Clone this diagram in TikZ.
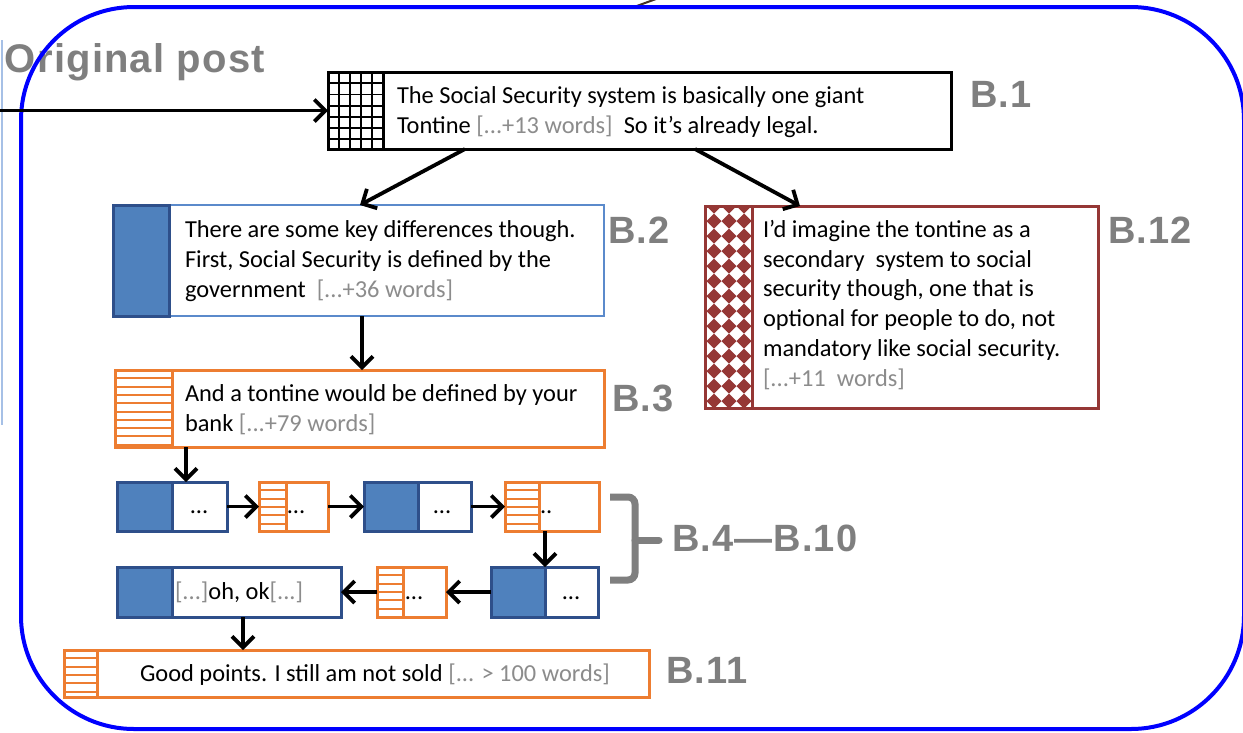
\documentclass[tikz,border=0pt]{standalone}
\usepackage{fontspec}
\setmainfont{Carlito}
\newfontfamily\labfont{Liberation Sans}[LetterSpace=3]
\usetikzlibrary{arrows.meta,calc}
\definecolor{org}{HTML}{ED7D31}
\definecolor{bfill}{HTML}{4F81BD}
\definecolor{bdk}{HTML}{2E4F8A}
\definecolor{lblue}{HTML}{5B8ACB}
\definecolor{dred}{HTML}{953735}
\definecolor{gtext}{HTML}{8C8C8C}
\definecolor{glab}{HTML}{7F7F7F}
\definecolor{fblue}{HTML}{0000FF}
\newcommand\grt[1]{\textcolor{gtext}{#1}}
\newcommand\hatchsec[4]{%
  \begin{scope}\clip (#1,#2) rectangle (#3,#4);
  \foreach \k in {1,...,12}{\draw[org, line width=2pt] (#1,#2+8.3*\k) -- (#3,#2+8.3*\k);}
  \end{scope}}
\begin{document}
\begin{tikzpicture}[x=1pt,y=-1pt,
  arr/.style={line width=3.8pt, -{Straight Barb[length=11pt,width=22pt]}},
  txt/.style={inner sep=0pt, outer sep=0pt, align=left, anchor=base west, font=\fontsize{24.4}{29.7}\selectfont},
  dots/.style={inner sep=0pt, outer sep=0pt, anchor=base, font=\fontsize{24.4}{29.7}\selectfont},
  lab/.style={inner sep=0pt, outer sep=0pt, anchor=base west, text=glab, font=\labfont\bfseries\fontsize{38}{38}\selectfont},
  boxn/.style={inner sep=0pt, outer sep=0pt, anchor=north west, line width=3pt, fill=white},
  ]
\useasboundingbox (0,0) rectangle (1243,732);
\fill[white] (0,0) rectangle (1243,732);

% fragments of surrounding diagram
\coordinate (lb1) at (1.5,40);
\coordinate (lb2) at (1.5,425);
\draw[color={rgb,255:red,166;green,192;blue,230}, line width=2pt] (lb1) -- (lb2);
\coordinate (fr1) at (634,7);
\coordinate (fr2) at (656,-1);
\draw[color={rgb,255:red,70;green,50;blue,35}, line width=2pt] (fr1) -- (fr2);

\node[lab, font=\labfont\bfseries\fontsize{40}{40}\selectfont] (orig) at (5,72) {Original post};

% blue frame
\draw[fblue, line width=4pt, rounded corners=113pt] (21,7) rectangle (1244,729);

% B.1
\node[boxn, draw=black, minimum width=623pt, minimum height=77pt] (b1) at (328,72) {};
\begin{scope}\clip (328,72) rectangle (383,149);
\foreach \k in {1,...,4}{\draw[line width=1.8pt] (328+11*\k,72) -- (328+11*\k,149);}
\foreach \k in {1,...,6}{\draw[line width=1.8pt] (328,72+11.2*\k) -- (383,72+11.2*\k);}
\end{scope}
\draw[line width=3pt] (383,72) -- (383,149);
\node[txt] (t1) at (397,133) {The Social Security system is basically one giant\\Tontine \grt{[...+13 words]}\ \ So it's already legal.};
\node[lab] (l1) at (970,107) {B.1};

% B.2
\node[boxn, draw=lblue, line width=2.5pt, minimum width=491pt, minimum height=111pt] (b2) at (113,205) {};
\draw[bdk, fill=bfill, line width=3pt] (113,205) rectangle (169,316);
\node[txt] (t2) at (185,297) {There are some key differences though.\\First, Social Security is defined by the\\government\ \ \grt{[...+36 words]}};
\node[lab] (l2) at (608,243) {B.2};

% B.12
\node[boxn, draw=dred, minimum width=393pt, minimum height=202pt] (b12) at (705,206) {};
\begin{scope}\clip (705,206) rectangle (752,408);
\foreach \i in {-1,...,3}{\foreach \j in {-1,...,13}{\fill[dred] (714+15*\i,213.5+15*\j) -- ++(7.6,7.6) -- ++(-7.6,7.6) -- ++(-7.6,-7.6) -- cycle;}}
\end{scope}
\draw[dred, line width=3pt] (705,206) rectangle (1098,408);
\draw[dred, line width=3pt] (752,206) -- (752,408);
\node[txt] (t12) at (763,386) {I'd imagine the tontine as a\\secondary\ \ system to social\\security though, one that is\\optional for people to do, not\\mandatory like social security.\\\grt{[...+11\ \ words]}};
\node[lab] (l12) at (1108,243) {B.12};

% B.3
\node[boxn, draw=org, minimum width=489pt, minimum height=77pt] (b3) at (115,370) {};
\hatchsec{115}{370}{172}{447}
\draw[org, line width=3pt] (115,370) rectangle (604,447);
\draw[org, line width=3pt] (172,370) -- (172,447);
\node[txt] (t3) at (185,431) {And a tontine would be defined by your\\bank \grt{[...+79 words]}};
\node[lab] (l3) at (612,411) {B.3};

% chain row 1
\node[boxn, draw=bdk, minimum width=110pt, minimum height=49pt] (c1) at (117,482) {};
\draw[bdk, fill=bfill, line width=3pt] (117,482) rectangle (172,531);
\node[dots] (d1) at (199,513) {...};

\node[boxn, draw=org, minimum width=69pt, minimum height=49pt] (c2) at (259,482) {};
\hatchsec{259}{482}{286}{531}
\draw[org, line width=3pt] (259,482) rectangle (328,531);
\draw[org, line width=3pt] (286,482) -- (286,531);
\node[dots] (d2) at (296,513) {...};

\node[boxn, draw=bdk, minimum width=107pt, minimum height=49pt] (c3) at (364,482) {};
\draw[bdk, fill=bfill, line width=3pt] (364,482) rectangle (418,531);
\node[dots] (d3) at (442,513) {...};

\node[boxn, draw=org, minimum width=94pt, minimum height=49pt] (c4) at (505,482) {};
\hatchsec{505}{482}{539}{531}
\draw[org, line width=3pt] (505,482) rectangle (599,531);
\draw[org, line width=3pt] (539,482) -- (539,531);
\node[dots, anchor=base west] (d4) at (540,513) {..};

% chain row 2
\node[boxn, draw=bdk, minimum width=107pt, minimum height=50pt] (c5) at (491,567) {};
\draw[bdk, fill=bfill, line width=3pt] (491,567) rectangle (545,617);
\node[dots] (d5) at (571,599) {...};

\node[boxn, draw=org, minimum width=69pt, minimum height=50pt] (c6) at (377,567) {};
\hatchsec{377}{567}{403}{617}
\draw[org, line width=3pt] (377,567) rectangle (446,617);
\draw[org, line width=3pt] (403,567) -- (403,617);
\node[dots] (d6) at (414,599) {...};

\node[boxn, draw=bdk, minimum width=224pt, minimum height=50pt] (c7) at (117,567) {};
\draw[bdk, fill=bfill, line width=3pt] (117,567) rectangle (172,617);
\node[dots, anchor=base west] (d7) at (175,599) {\grt{[...]}oh, ok\grt{[...]}};

% bracket
\draw[glab, line width=7pt, rounded corners=7pt] (610,497) -- (635,497) -- (635,580) -- (610,580);
\draw[glab, line width=7pt, line cap=round] (635,540) -- (659,540);
\node[lab] (l4) at (672,551) {B.4—B.10};

% B.11
\node[boxn, draw=org, minimum width=585pt, minimum height=47pt] (b11) at (64,650) {};
\hatchsec{64}{650}{97}{697}
\draw[org, line width=3pt] (64,650) rectangle (649,697);
\draw[org, line width=3pt] (97,650) -- (97,697);
\node[dots] (t11) at (375,681) {Good points. I still am not sold \grt{[... > 100 words]}};
\node[lab] (l11) at (666,683) {B.11};

% connectors
\coordinate (in) at (0,110.5);
\draw[arr] (in) -- (b1.west);
\draw[arr] ($(b1.south west)+(137,0)$) -- ($(b2.north west)+(247,0)$);
\draw[arr] ($(b1.south west)+(367,0)$) -- ($(b12.north west)+(95,0)$);
\draw[arr] ($(b2.south west)+(249,0)$) -- ($(b3.north west)+(247,0)$);
\draw[arr] ($(b3.south west)+(71,0)$) -- ($(c1.north west)+(69,0)$);
\draw[arr] (c1.east) -- (c2.west);
\draw[arr] (c2.east) -- (c3.west);
\draw[arr] (c3.east) -- (c4.west);
\draw[arr] ($(c4.south west)+(40,0)$) -- ($(c5.north west)+(54,0)$);
\draw[arr] (c5.west) -- (c6.east);
\draw[arr] (c6.west) -- (c7.east);
\draw[arr] ($(c7.south west)+(126,0)$) -- ($(b11.north west)+(179,0)$);
\end{tikzpicture}
\end{document}
